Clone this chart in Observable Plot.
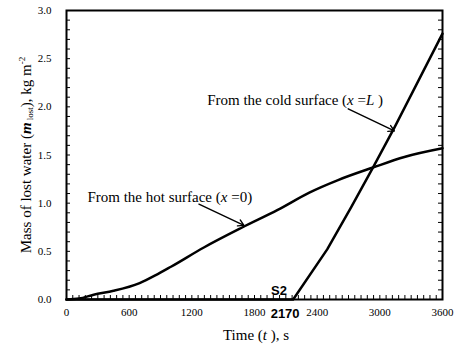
<!DOCTYPE html>
<html><head><meta charset="utf-8">
<script src="https://cdn.jsdelivr.net/npm/d3@7"></script>
<script src="https://cdn.jsdelivr.net/npm/@observablehq/plot@0.6"></script>
<style>body{margin:0;background:#fff}</style>
</head><body><div id="chart"></div>
<script>
const hotT = [0, 120, 260, 450, 700, 850, 1000, 1315, 1686, 2022, 2325, 2600, 2934, 3235, 3600];
const hotM = [0, 0.01, 0.05, 0.09, 0.17, 0.25, 0.34, 0.54, 0.75, 0.93, 1.11, 1.24, 1.37, 1.48, 1.57];
const coldT = [0, 2170, 2496, 2726, 2934, 3142, 3600];
const coldM = [0, 0, 0.52, 0.96, 1.37, 1.79, 2.76];
const xTicks = [0, 600, 1200, 1800, 2400, 3000, 3600];
const yTicks = [0, 0.5, 1.0, 1.5, 2.0, 2.5, 3.0];
const xMinor = d3.range(0, 3601, 60);
const yMinor = d3.range(0, 31, 1).map(d => d / 10);
const labelTexts = ["From the hot surface (x =0)", "From the cold surface (x =L )"];
const labelT = [989, 2189];
const labelM = [1.06, 2.07];
const arrowT1 = [1268, 2697], arrowM1 = [0.99, 1.98];
const arrowT2 = [1699, 3139], arrowM2 = [0.77, 1.75];
const s2Text = ["S2", "2170"];
const s2T = [2035, 2093];
const s2M = [0.085, -0.145];

const hot = hotT.map((t, i) => ({t, m: hotM[i]}));
const cold = coldT.map((t, i) => ({t, m: coldM[i]}));
const labels = labelTexts.map((s, i) => ({s, t: labelT[i], m: labelM[i]}));
const arrows = arrowT1.map((t1, i) => ({t1, m1: arrowM1[i], t2: arrowT2[i], m2: arrowM2[i]}));
const s2 = s2Text.map((s, i) => ({s, t: s2T[i], m: s2M[i]}));

const chart = Plot.plot({
  width: 454, height: 344,
  marginLeft: 66, marginRight: 12, marginTop: 10, marginBottom: 45,
  style: {fontFamily: "Liberation Serif", fontSize: "11px", background: "white", color: "black", overflow: "visible"},
  x: {domain: [0, 3600]},
  y: {domain: [0, 3]},
  marks: [
    Plot.tickX(xMinor, {x: d => d, insetTop: 285, stroke: "black", strokeWidth: 1}),
    Plot.tickY(yMinor, {y: d => d, insetRight: 372, stroke: "black", strokeWidth: 1}),
    Plot.tickY(yMinor, {y: d => d, insetLeft: 372, stroke: "black", strokeWidth: 1}),
    Plot.axisX({ticks: xTicks, tickSize: 0, tickPadding: 9, label: null, tickFormat: d3.format("d"), fontSize: 11}),
    Plot.axisY({ticks: yTicks, tickSize: 0, tickPadding: 15, label: null, tickFormat: d3.format(".1f"), fontSize: 11}),
    Plot.line(hot, {x: "t", y: "m", stroke: "black", strokeWidth: 2.5, curve: "monotone-x"}),
    Plot.line(cold, {x: "t", y: "m", stroke: "black", strokeWidth: 2.5}),
    Plot.frame({stroke: "black", strokeWidth: 2}),
    Plot.arrow(arrows, {x1: "t1", y1: "m1", x2: "t2", y2: "m2", stroke: "black", strokeWidth: 1.4, headLength: 7}),
    Plot.text(labels, {x: "t", y: "m", text: "s", fontSize: 15, fontFamily: "Liberation Serif"}),
    Plot.text(s2, {x: "t", y: "m", text: "s", fontSize: 13, fontWeight: "bold", fontFamily: "Liberation Sans"})
  ]
});
document.getElementById("chart").appendChild(chart);

const svg = d3.select(chart);
svg.selectAll("text").each(function() {
  const el = d3.select(this);
  const txt = this.textContent;
  if (txt === labelTexts[0]) {
    el.text(null);
    el.append("tspan").text("From the hot surface (");
    el.append("tspan").attr("font-style", "italic").text("x");
    el.append("tspan").text(" =0)");
  } else if (txt === labelTexts[1]) {
    el.text(null);
    el.append("tspan").text("From the cold surface (");
    el.append("tspan").attr("font-style", "italic").text("x");
    el.append("tspan").text(" =");
    el.append("tspan").attr("font-style", "italic").text("L");
    el.append("tspan").text(" )");
  }
});
const xt = svg.append("text").attr("x", 256).attr("y", 340).attr("text-anchor", "middle")
  .attr("font-family", "Liberation Serif").attr("font-size", 15).attr("fill", "black");
xt.append("tspan").text("Time (");
xt.append("tspan").attr("font-style", "italic").text("t");
xt.append("tspan").text(" ), s");
const yt = svg.append("text").attr("transform", "translate(31,155) rotate(-90)").attr("text-anchor", "middle")
  .attr("font-family", "Liberation Serif").attr("font-size", 15).attr("fill", "black");
yt.append("tspan").text("Mass of lost water (");
yt.append("tspan").attr("font-style", "italic").attr("font-weight", "bold").text("m");
yt.append("tspan").attr("font-size", 9).attr("dy", 2).text(" lost");
yt.append("tspan").attr("dy", -2).text("), kg m");
yt.append("tspan").attr("font-size", 9).attr("dy", -6).text("-2");
</script>
</body></html>
